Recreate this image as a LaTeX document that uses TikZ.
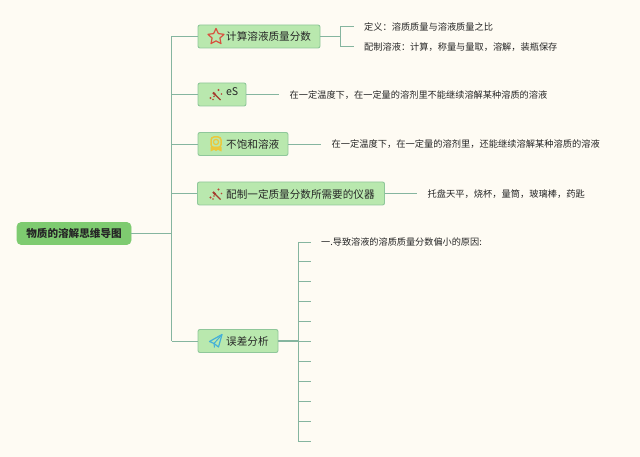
\documentclass[tikz,border=0pt]{standalone}
\usepackage{fontspec}
\setmainfont{Noto Sans CJK SC}
\usetikzlibrary{calc}
\definecolor{bgc}{HTML}{FEFBF3}
\definecolor{boxfill}{HTML}{B9E8AE}
\definecolor{boxline}{HTML}{8FC79A}
\definecolor{rootfill}{HTML}{7ECB70}
\definecolor{linec}{HTML}{85B59F}
\definecolor{txt}{HTML}{262626}
\definecolor{iconred}{HTML}{D9503F}
\definecolor{iconyel}{HTML}{EBC83C}
\definecolor{iconblue}{HTML}{45B0D8}
\tikzset{
 x=1pt,y=-1pt,
 conn/.style={draw=linec,line width=0.9pt},
 rootbox/.style={draw=rootfill,fill=rootfill,rounded corners=4pt,line width=0.6pt,minimum height=22pt,minimum width=114pt,inner sep=0pt,font=\fontsize{10.6}{13}\selectfont\bfseries,text=black!85},
 branch/.style={draw=boxline,fill=boxfill,rounded corners=2pt,line width=0.9pt,minimum height=23pt,inner sep=0pt,text=txt,font=\fontsize{10.5}{13}\selectfont},
 blabel/.style={anchor=west,inner sep=0pt,text=txt,font=\fontsize{10.6}{13}\selectfont},
 leaf/.style={anchor=west,inner xsep=10.5pt,inner ysep=2pt,text=txt,font=\fontsize{9.2}{11}\selectfont},
 wand/.style={draw=iconred!75!black,line width=1.2pt},
}
\newcommand{\wandicon}[2]{%
 \begin{scope}[shift={(#1,#2)}]
  \draw[wand] (-3,-2) -- (4.5,5.5);
  \draw[wand,line width=1.8pt] (-3,-2) -- (-0.5,0.5);
  \fill[iconred!85!black] (-5.5,3.5) circle (1.2pt) (-3,5) circle (0.9pt) (2.5,-4.5) circle (1.1pt) (5.5,-0.5) circle (0.9pt) (-2,2) circle (0.8pt);
 \end{scope}}
\begin{document}
\begin{tikzpicture}
\useasboundingbox (0,0) rectangle (640,457);
\fill[bgc] (0,0) rectangle (640,457);

\coordinate (trunkTop) at (171.5,36.5);
\coordinate (trunkBot) at (171.5,341);
\coordinate (forkTop) at (340,26);
\coordinate (forkBot) at (340,46);
\coordinate (forkMid) at (340,36.5);
\coordinate (subTop) at (298,242);
\coordinate (subBot) at (298,441);

\node[rootbox] (root) at (74,233.5) {物质的溶解思维导图};

\node[branch,minimum width=122pt] (b1) at (259,36.5) {};
\node[branch,minimum width=48pt] (b2) at (222,94.5) {};
\node[branch,minimum width=90pt] (b3) at (243,144) {};
\node[branch,minimum width=187pt] (b4) at (291,193.5) {};
\node[branch,minimum width=80pt] (b5) at (238,341) {};

\node[blabel] (l1) at (226,36.5) {计算溶液质量分数};
\node[blabel] (l2) at (226,92) {eS};
\node[blabel] (l3) at (226,144.5) {不饱和溶液};
\node[blabel] (l4) at (226,194) {配制一定质量分数所需要的仪器};
\node[blabel] (l5) at (226,341.5) {误差分析};

\node[leaf] (t1a) at (353.5,27) {定义：溶质质量与溶液质量之比};
\node[leaf] (t1b) at (353.5,47) {配制溶液：计算，称量与量取，溶解，装瓶保存};
\node[leaf] (t2) at (279,95) {在一定温度下，在一定量的溶剂里不能继续溶解某种溶质的溶液};
\node[leaf,font=\fontsize{9.25}{11}\selectfont] (t3) at (321,144.5) {在一定温度下，在一定量的溶剂里，还能继续溶解某种溶质的溶液};
\node[leaf,font=\fontsize{9.25}{11}\selectfont] (t4) at (417,194.5) {托盘天平，烧杯，量筒，玻璃棒，药匙};
\node[anchor=west,inner sep=0pt,text=txt,font=\fontsize{9.15}{11}\selectfont] (t5) at (321,242) {一.导致溶液的溶质质量分数偏小的原因:};

% trunk
\draw[conn] (trunkTop) -- (trunkBot);
\draw[conn] (root.east) -- (trunkTop |- root.east);
\foreach \b in {b1,b2,b3,b4,b5}{\draw[conn] (trunkTop |- \b.west) -- (\b.west);}

% branch 1 fork
\draw[conn] (b1.east) -- (forkMid);
\draw[conn] (forkTop -| t1a.west) -- (forkTop) -- (forkBot) -- (forkBot -| t1b.west);

% leaf connectors
\draw[conn] (b2.east) -- (b2.east -| t2.west);
\draw[conn] (b3.east) -- (b3.east -| t3.west);
\draw[conn] (b4.east) -- (b4.east -| t4.west);

% branch 5 comb
\draw[conn,line width=1.2pt] (b5.east) -- (subTop |- b5.east);
\draw[conn] (subTop) -- (subBot);
\foreach \i in {0,...,10}{
 \coordinate (tick\i) at ($(subTop)+(13,19.9*\i)$);
 \draw[conn,line width=0.8pt] (subTop |- tick\i) -- (tick\i);
}

% star icon
\draw[iconred,line width=1.2pt,line join=round]
 (216,28.5) -- (218.4,33.6) -- (224,34.3) -- (219.9,38.1) -- (221,43.6) -- (216,40.9) -- (211,43.6) -- (212.1,38.1) -- (208,34.3) -- (213.6,33.6) -- cycle;

% wands
\wandicon{216}{94.5}
\wandicon{216}{194}

% medal icon
\begin{scope}[shift={(216,144)}]
 \draw[iconyel,line width=1.5pt,rounded corners=3pt] (-5,-7) rectangle (5,3.5);
 \draw[iconyel,line width=1.2pt] (0,-2) circle (2.6pt);
 \fill[iconyel] (-5.5,3) -- (-5.5,7.5) -- (-2,5.8) -- (0,7) -- (2,5.8) -- (5.5,7.5) -- (5.5,3) -- cycle;
\end{scope}

% paper plane icon
\begin{scope}[shift={(216,341)}]
 \draw[iconblue,line width=1.2pt,line join=round] (6,-6.5) -- (-6.5,0.5) -- (-2,2.5) -- (2.5,6) -- cycle;
 \draw[iconblue,line width=1pt] (6,-6.5) -- (-2,2.5) -- (-1.5,6.5);
\end{scope}
\end{tikzpicture}
\end{document}
